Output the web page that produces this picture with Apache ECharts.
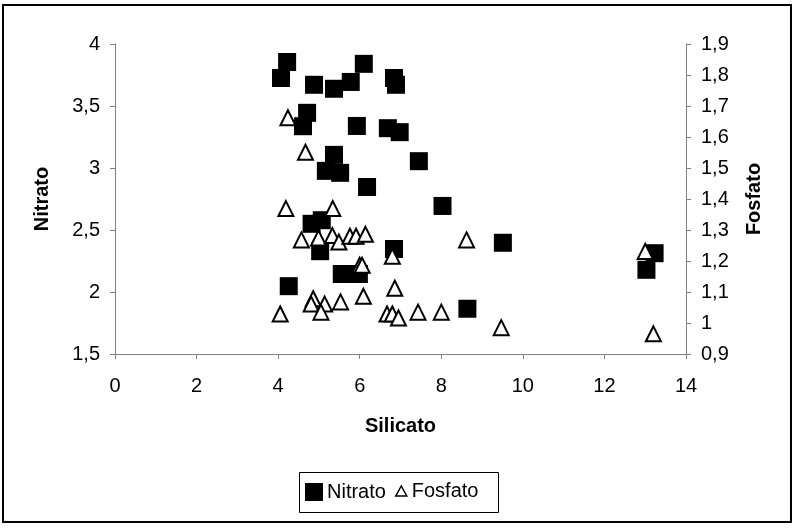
<!DOCTYPE html>
<html>
<head>
<meta charset="utf-8">
<script src="https://cdn.jsdelivr.net/npm/echarts@6/dist/echarts.min.js"></script>
<style>
  html, body { margin: 0; padding: 0; background: #fff; }
  #chart { width: 795px; height: 528px; }
</style>
</head>
<body>
<div id="chart"></div>
<script>
// Nitrato samples: silicato (x) and nitrato (left axis)
const nitratoSilicato = [4.22, 4.07, 4.88, 5.37, 5.78, 6.10, 6.84, 6.89, 4.71, 4.61,
                         5.93, 6.69, 6.98, 5.37, 5.17, 5.52, 7.45, 6.18, 8.03, 4.82,
                         5.07, 5.03, 6.84, 5.56, 5.98, 4.26, 8.64, 9.51, 13.23, 13.03];
const nitratoValues   = [3.855, 3.726, 3.671, 3.639, 3.694, 3.84, 3.726, 3.671, 3.445, 3.337,
                         3.339, 3.321, 3.289, 3.106, 2.977, 2.961, 3.055, 2.847, 2.694, 2.55,
                         2.579, 2.329, 2.347, 2.145, 2.145, 2.047, 1.865, 2.397, 2.313, 2.179];

// Fosfato samples: silicato (x) and fosfato (right axis)
const fosfatoSilicato = [4.24, 4.67, 4.19, 5.34, 4.57, 4.99, 5.33, 5.49, 5.76, 5.91,
                         6.14, 8.62, 6.80, 6.00, 6.06, 6.86, 6.09, 4.86, 4.81, 5.14,
                         5.05, 5.53, 4.05, 6.67, 6.80, 6.95, 7.43, 8.00, 9.47, 13.0, 13.2];
const fosfatoValues   = [1.662, 1.551, 1.369, 1.369, 1.268, 1.274, 1.282, 1.261, 1.28, 1.28,
                         1.286, 1.268, 1.215, 1.186, 1.186, 1.112, 1.086, 1.078, 1.061, 1.061,
                         1.035, 1.068, 1.029, 1.029, 1.029, 1.016, 1.035, 1.035, 0.985, 1.231, 0.965];

// Axis ranges and ticks
const xTicks = { min: 0, max: 14, interval: 2 };
const nitratoTicks = { min: 1.5, max: 4, interval: 0.5 };
const fosfatoTicks = { min: 0.9, max: 1.9, interval: 0.1 };

const FONT = '"Liberation Sans", Arial, sans-serif';
const commaFmt = v => String(+(+v).toFixed(2)).replace('.', ',');

const axisBase = {
  axisLine: { show: true, lineStyle: { color: '#808080', width: 1 } },
  axisTick: { show: true, inside: false, length: 5, lineStyle: { color: '#808080' } },
  splitLine: { show: false },
  nameTextStyle: { fontFamily: FONT, fontSize: 20, fontWeight: 'bold', color: '#000' }
};

const chart = echarts.init(document.getElementById('chart'), null, { renderer: 'canvas' });

chart.setOption({
  backgroundColor: '#fff',
  animation: false,
  grid: { left: 115, right: 109, top: 44, bottom: 174, containLabel: false },
  xAxis: Object.assign({}, axisBase, {
    type: 'value',
    min: xTicks.min, max: xTicks.max, interval: xTicks.interval,
    name: 'Silicato', nameLocation: 'middle', nameGap: 62,
    axisLabel: { fontFamily: FONT, fontSize: 20, color: '#000', margin: 22, formatter: commaFmt }
  }),
  yAxis: [
    Object.assign({}, axisBase, {
      type: 'value', position: 'left',
      min: nitratoTicks.min, max: nitratoTicks.max, interval: nitratoTicks.interval,
      name: 'Nitrato', nameLocation: 'middle', nameGap: 63,
      axisLabel: { fontFamily: FONT, fontSize: 20, color: '#000', margin: 15, formatter: commaFmt }
    }),
    Object.assign({}, axisBase, {
      type: 'value', position: 'right',
      min: fosfatoTicks.min, max: fosfatoTicks.max, interval: fosfatoTicks.interval,
      name: 'Fosfato', nameLocation: 'middle', nameGap: 58,
      axisLabel: { fontFamily: FONT, fontSize: 20, color: '#000', margin: 15, formatter: commaFmt }
    })
  ],
  legend: [
    {
      data: [{ name: 'Nitrato', icon: 'rect' }],
      left: 305, top: 482, itemWidth: 18, itemHeight: 18, itemGap: 0, padding: 0,
      textStyle: { fontFamily: FONT, fontSize: 20, color: '#000', padding: [0, 0, 0, -1] },
      selectedMode: false
    },
    {
      data: [{ name: 'Fosfato', icon: 'triangle' }],
      left: 395, top: 481, itemWidth: 11, itemHeight: 10, itemGap: 0, padding: 0,
      textStyle: { fontFamily: FONT, fontSize: 20, color: '#000', padding: [0, 0, 0, 0] },
      itemStyle: { color: '#fff', borderColor: '#000', borderWidth: 1.5 },
      selectedMode: false
    }
  ],
  graphic: [
    { type: 'rect', shape: { x: 3, y: 5, width: 788, height: 517 },
      style: { fill: null, stroke: '#000', lineWidth: 2 }, silent: true, z: 100 },
    { type: 'rect', shape: { x: 299.5, y: 472.5, width: 199, height: 40 },
      style: { fill: null, stroke: '#000', lineWidth: 1 }, silent: true, z: 100 }
  ],
  series: [
    {
      name: 'Nitrato', type: 'scatter', yAxisIndex: 0,
      symbol: 'rect', symbolSize: 18,
      itemStyle: { color: '#000', opacity: 1 },
      data: nitratoSilicato.map((x, i) => [x, nitratoValues[i]])
    },
    {
      name: 'Fosfato', type: 'scatter', yAxisIndex: 1,
      symbol: 'triangle', symbolSize: 15,
      itemStyle: { color: '#fff', borderColor: '#000', borderWidth: 2, opacity: 1 },
      data: fosfatoSilicato.map((x, i) => [x, fosfatoValues[i]])
    }
  ]
});
</script>
</body>
</html>
